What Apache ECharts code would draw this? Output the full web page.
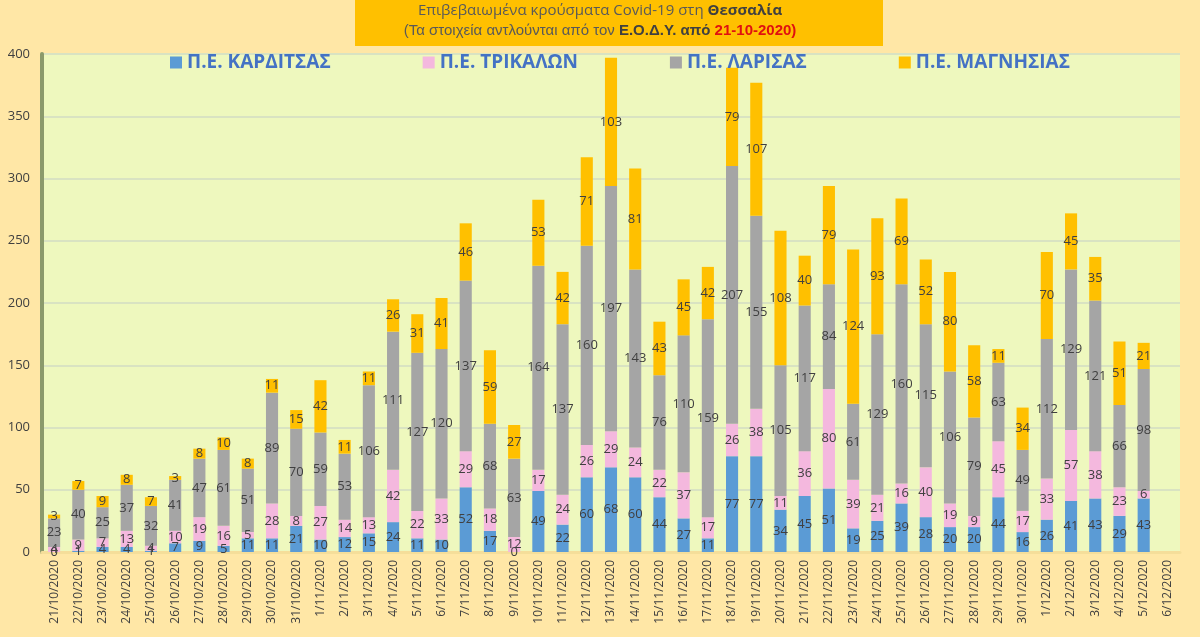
<!DOCTYPE html>
<html>
<head>
<meta charset="utf-8">
<script src="https://cdn.jsdelivr.net/npm/echarts@6/dist/echarts.min.js"></script>
<style>
  html, body { margin: 0; padding: 0; background: #FFE7A6; }
  #chart { width: 1200px; height: 637px; }
</style>
</head>
<body>
<div id="chart"></div>
<script>
const dates = ['21/10/2020','22/10/2020','23/10/2020','24/10/2020','25/10/2020','26/10/2020','27/10/2020','28/10/2020','29/10/2020','30/10/2020','31/10/2020',
  '1/11/2020','2/11/2020','3/11/2020','4/11/2020','5/11/2020','6/11/2020','7/11/2020','8/11/2020','9/11/2020','10/11/2020','11/11/2020','12/11/2020','13/11/2020','14/11/2020','15/11/2020','16/11/2020','17/11/2020','18/11/2020','19/11/2020','20/11/2020','21/11/2020','22/11/2020','23/11/2020','24/11/2020','25/11/2020','26/11/2020','27/11/2020','28/11/2020','29/11/2020','30/11/2020',
  '1/12/2020','2/12/2020','3/12/2020','4/12/2020','5/12/2020','6/12/2020']

const karditsa = [0,1,4,4,1,7,9,5,11,11,21,10,12,15,24,11,10,52,17,0,49,22,60,68,60,44,27,11,77,77,34,45,51,19,25,39,28,20,20,44,16,26,41,43,29,43,null]
const trikala  = [4,9,7,13,4,10,19,16,5,28,8,27,14,13,42,22,33,29,18,12,17,24,26,29,24,22,37,17,26,38,11,36,80,39,21,16,40,19,9,45,17,33,57,38,23,6,null]
const larisa   = [23,40,25,37,32,41,47,61,51,89,70,59,53,106,111,127,120,137,68,63,164,137,160,197,143,76,110,159,207,155,105,117,84,61,129,160,115,106,79,63,49,112,129,121,66,98,null]
const magnisia = [3,7,9,8,7,3,8,10,8,11,15,42,11,11,26,31,41,46,59,27,53,42,71,103,81,43,45,42,79,107,108,40,79,124,93,69,52,80,58,11,34,70,45,35,51,21,null]

const names = ['Π.Ε. ΚΑΡΔΙΤΣΑΣ', 'Π.Ε. ΤΡΙΚΑΛΩΝ', 'Π.Ε. ΛΑΡΙΣΑΣ', 'Π.Ε. ΜΑΓΝΗΣΙΑΣ']
const colors = ['#5B9BD5', '#F4B8DE', '#A5A5A5', '#FFC000']
const values = [karditsa, trikala, larisa, magnisia]

const chart = echarts.init(document.getElementById('chart'))

const series = values.map((d, i) => ({
  name: names[i],
  type: 'bar',
  stack: 'total',
  barWidth: '50%',
  data: d,
  itemStyle: { color: colors[i] },
  label: {
    show: true,
    position: 'inside',
    color: '#404040',
    fontSize: 13,
    fontFamily: 'Open Sans'
  }
}))

chart.setOption({
  backgroundColor: '#FFE7A6',
  textStyle: { fontFamily: 'Open Sans' },
  graphic: [
    { type: 'rect', left: 355, top: 0, shape: { width: 528, height: 46 }, style: { fill: '#FFC000' } },
    { type: 'text', left: 'center', top: 3, style: {
      text: '{n|Επιβεβαιωμένα κρούσματα Covid-19 στη }{b|Θεσσαλία}',
      rich: { n: { fontSize: 15, fill: '#595959', fontFamily: 'Open Sans' }, b: { fontSize: 15, fill: '#404040', fontWeight: 'bold', fontFamily: 'Open Sans' } }
    } },
    { type: 'text', left: 'center', top: 23, style: {
      text: '{n|(Τα στοιχεία αντλούνται από τον }{b|Ε.Ο.Δ.Υ. από }{r|21-10-2020)}',
      rich: { n: { fontSize: 15, fill: '#595959' }, b: { fontSize: 15, fill: '#404040', fontWeight: 'bold' }, r: { fontSize: 15, fill: '#E01010', fontWeight: 'bold' } }
    } },
    { type: 'rect', left: 65, top: 160, shape: { width: 317, height: 45 }, style: { fill: '#111111' } },
    { type: 'text', left: 82, top: 163, style: { text: 'KarditsaLive.Net', fontSize: 22, fill: '#E02020', fontStyle: 'italic', stroke: '#ffffff', lineWidth: 0.6 } },
    { type: 'text', left: 72, top: 191, style: { text: 'Ηλεκτρονική πύλη ενημέρωσης Καρδίτσας', fontSize: 10, fill: '#ffffff', fontWeight: 'bold' } }
  ],
  legend: {
    top: 48,
    left: 165,
    itemGap: 92,
    itemWidth: 12,
    itemHeight: 12,
    icon: 'rect',
    textStyle: { fontSize: 19, fontWeight: 'bold', color: '#4472C4', fontFamily: 'Liberation Sans Narrow, Open Sans' }
  },
  grid: { left: 42, right: 20, top: 54, bottom: 85, containLabel: false },
  xAxis: {
    type: 'category',
    data: dates,
    axisTick: { show: false },
    axisLine: { lineStyle: { color: '#F5DE9A', width: 3 } },
    axisLabel: { rotate: 90, fontSize: 12, color: '#404040', interval: 0 }
  },
  yAxis: {
    type: 'value',
    min: 0,
    max: 400,
    interval: 50,
    axisLine: { show: true, lineStyle: { color: '#8B9A6B', width: 4 } },
    axisLabel: { fontSize: 13, color: '#404040', margin: 12 },
    splitLine: { lineStyle: { color: '#D9E3C2', width: 2 } },
    splitArea: { show: true, areaStyle: { color: ['#EEF8BE', '#EEF8BE'] } }
  },
  series
})
</script>
</body>
</html>
